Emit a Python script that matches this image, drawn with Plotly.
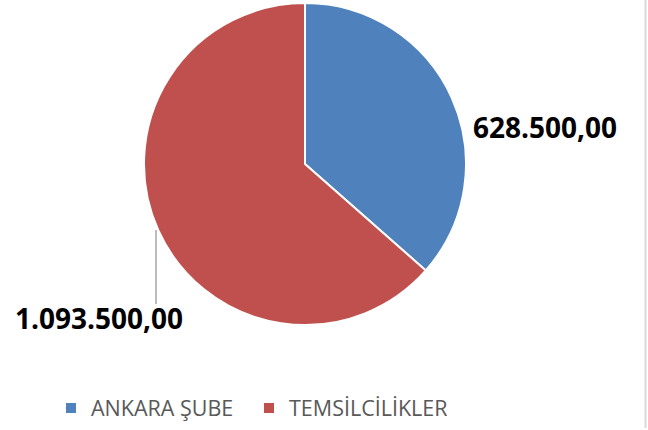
import plotly.graph_objects as go

categories = ["ANKARA ŞUBE", "TEMSİLCİLİKLER"]
values = [628500.00, 1093500.00]
colors = ["#4F81BD", "#C0504D"]

W, H = 648, 430

def tr_fmt(v):
    s = "{:,.2f}".format(v)
    return s.replace(",", "X").replace(".", ",").replace("X", ".")

def px(x):
    return x / W

def py(y):
    return 1 - y / H

fig = go.Figure()
fig.add_trace(go.Pie(
    labels=categories,
    values=values,
    sort=False,
    direction="clockwise",
    rotation=0,
    marker=dict(colors=colors, line=dict(color="white", width=2)),
    textinfo="none",
    hoverinfo="label+value",
    domain=dict(x=[px(144), px(466)], y=[py(325), py(3)]),
))

label_font = dict(family="Open Sans", size=28, color="#000000")
fig.add_annotation(x=px(471), y=py(127), xref="paper", yref="paper",
                   text="<b>" + tr_fmt(values[0]) + "</b>", showarrow=False,
                   xanchor="left", yanchor="middle", font=label_font)
fig.add_annotation(x=px(13), y=py(318), xref="paper", yref="paper",
                   text="<b>" + tr_fmt(values[1]) + "</b>", showarrow=False,
                   xanchor="left", yanchor="middle", font=label_font)

fig.add_shape(type="line", xref="paper", yref="paper",
              x0=px(156), x1=px(156), y0=py(230), y1=py(304),
              line=dict(color="#A6A6A6", width=1.5))
fig.add_shape(type="line", xref="paper", yref="paper",
              x0=px(645.5), x1=px(645.5), y0=py(0), y1=py(428),
              line=dict(color="#D9D9D9", width=2))

fig.update_layout(
    width=W, height=H,
    margin=dict(l=0, r=0, t=0, b=0),
    paper_bgcolor="white",
    plot_bgcolor="white",
    showlegend=True,
    legend=dict(orientation="h", x=px(51), y=py(408), xanchor="left", yanchor="middle",
                font=dict(family="Open Sans", size=21.5, color="#595959"),
                entrywidth=153, entrywidthmode="pixels",
                itemsizing="constant", traceorder="normal"),
)

fig.write_html("out.html", config={"displayModeBar": False},
               post_script="document.body.style.margin='0';")
